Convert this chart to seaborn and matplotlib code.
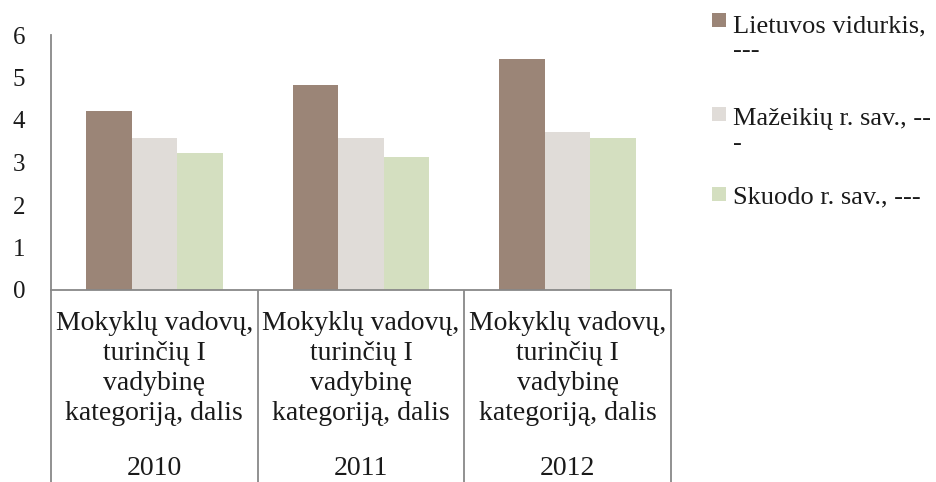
import matplotlib
matplotlib.use("Agg")
import matplotlib.pyplot as plt
import matplotlib.transforms as mtransforms
from matplotlib.patches import Rectangle
import seaborn as sns
import pandas as pd

years = ["2010", "2011", "2012"]
category_label = "Mokyklų vadovų,\nturinčių I\nvadybinę\nkategoriją, dalis"
series_names = ["Lietuvos vidurkis, ---", "Mažeikių r. sav., ---", "Skuodo r. sav., ---"]
legend_lines = [["Lietuvos vidurkis,", "---"], ["Mažeikių r. sav., --", "-"], ["Skuodo r. sav., ---"]]
lietuvos = [4.22, 4.83, 5.43]
mazeikiu = [3.58, 3.58, 3.71]
skuodo = [3.23, 3.14, 3.58]
colors = ["#9B8577", "#E0DCD8", "#D4DFC0"]

rows = []
for s, vals in zip(series_names, [lietuvos, mazeikiu, skuodo]):
    for y, v in zip(years, vals):
        rows.append({"year": y, "series": s, "value": v})
df = pd.DataFrame(rows)

sns.set_theme(style="white")
plt.rcParams["font.family"] = ["Liberation Serif", "DejaVu Serif"]

W, H = 936, 482
fig = plt.figure(figsize=(W / 100, H / 100), dpi=100)
ax = fig.add_axes([51 / W, 1 - 290 / H, (671 - 51) / W, (290 - 35) / H])

sns.barplot(data=df, x="year", y="value", hue="series", order=years,
            hue_order=series_names, palette=colors, width=0.66,
            saturation=1, ax=ax, legend=False, edgecolor="none")

ax.set_ylim(0, 6)
ax.set_xlim(-0.5, 2.5)
ax.set_yticks(range(0, 7))
ax.tick_params(axis="y", length=0, pad=18.5, labelsize=18, colors="#1a1a1a")
ax.set_xticks(range(3))
ax.set_xticklabels([category_label] * 3, fontsize=20, linespacing=1.27)
ax.tick_params(axis="x", length=0, pad=15, colors="#1a1a1a")
ax.set_xlabel("")
ax.set_ylabel("")
for sp in ["top", "right"]:
    ax.spines[sp].set_visible(False)
for sp in ["left", "bottom"]:
    ax.spines[sp].set_color("#888888")
    ax.spines[sp].set_linewidth(1.3)

trans = mtransforms.blended_transform_factory(ax.transData, ax.transAxes)
for xb in [-0.5, 0.5, 1.5, 2.5]:
    ax.plot([xb, xb], [0, -0.78], transform=trans, color="#888888",
            lw=1.3, clip_on=False, solid_capstyle="butt")
for i, y in enumerate(years):
    ax.text(i, (290 - 475) / 255, y, transform=trans, ha="center",
            va="baseline", fontsize=20, color="#1a1a1a")

# legend
sq = 14
square_top = [13, 107, 187]
baselines = [[32, 57], [125, 150], [203]]
for lines, col, st, bls in zip(legend_lines, colors, square_top, baselines):
    fig.add_artist(Rectangle((712 / W, 1 - (st + sq) / H), sq / W, sq / H,
                             transform=fig.transFigure, facecolor=col,
                             edgecolor="none"))
    for ln, bl in zip(lines, bls):
        fig.text(733 / W, 1 - bl / H, ln, ha="left", va="baseline",
                 fontsize=19, color="#1a1a1a")

fig.savefig("out.png", dpi=100)
